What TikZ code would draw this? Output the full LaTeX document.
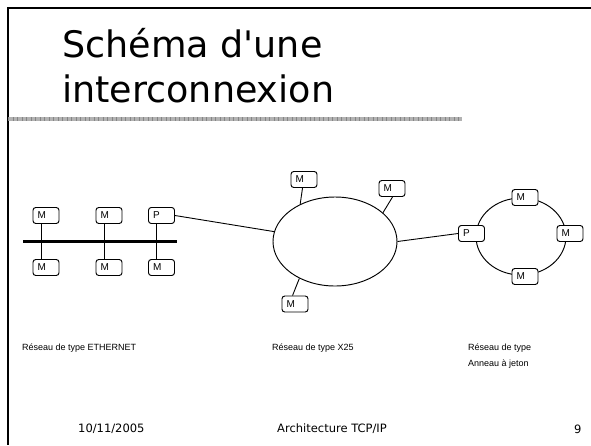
\documentclass[tikz,border=0pt]{standalone}
\usepackage{fontspec}
\setmainfont{DejaVu Sans}
\newfontfamily\dvs{DejaVu Sans}
\newfontfamily\arialf{Liberation Sans}
\usetikzlibrary{calc,shapes.geometric}
\begin{document}
\begin{tikzpicture}[x=1pt,y=-1pt,
  mbox/.style={draw, line width=0.95pt, rounded corners=2.8pt, fill=white,
    minimum height=16pt, text width=17pt, inner xsep=4.5pt, inner ysep=0pt,
    align=left, font=\arialf\fontsize{10}{10}\selectfont},
  wire/.style={line width=0.9pt},
  net/.style={draw, line width=0.95pt, ellipse, inner sep=0pt},
  lbl/.style={font=\arialf\fontsize{9}{10}\selectfont, inner sep=0pt, anchor=west},
  foot/.style={font=\fontsize{11.5}{12}\selectfont, inner sep=0pt, anchor=west},
  ttl/.style={font=\dvs\fontsize{36.5}{45}\selectfont, inner sep=0pt, anchor=base west}]
\useasboundingbox (0,0) rectangle (591,445);
% frame
\draw[line width=2pt] (591,8) -- (7.5,8) -- (7.5,445);
% title
\node[ttl] (t1) at (62,57) {Schéma d'une};
\node[ttl] (t2) at (62,102) {interconnexion};
% bar
\fill[black!30] (8,117) rectangle (462,121);
\draw[black!48, line width=4pt, dash pattern=on 0.7pt off 3.8pt] (8,119) -- (462,119);
% ethernet
\coordinate (busL) at (23,241.5);
\coordinate (busR) at (177,241.5);
\draw[line width=2.3pt] (busL) -- (busR);
\node[mbox] (e1) at (46,215.5) {M};
\node[mbox] (e2) at (109,215.5) {M};
\node[mbox] (ep) at (161.5,215.5) {P};
\node[mbox] (f1) at (46,267.5) {M};
\node[mbox] (f2) at (109,267.5) {M};
\node[mbox] (f3) at (161.5,267.5) {M};
\foreach \a/\b in {e1/f1,e2/f2,ep/f3}
  \draw[wire] ($(\a.south west)+(8.7,0)$) -- ($(\b.north west)+(8.7,0)$);
% X25
\node[net, minimum width=124pt, minimum height=89pt] (x25) at (335,241.5) {};
\node[mbox] (xa) at (304,179.5) {M};
\node[mbox] (xb) at (392,188.5) {M};
\node[mbox] (xc) at (295,304) {M};
\draw[wire] ($(xa.south west)+(12,0)$) -- (x25.133);
\draw[wire] ($(xb.south west)+(14,0)$) -- (x25.31);
\draw[wire] ($(xc.north west)+(11,0)$) -- (x25.226);
\draw[wire] (ep.east) -- (x25);
% ring
\node[net, minimum width=90pt, minimum height=77pt] (ring) at (521,236.5) {};
\node[mbox] (rt) at (525,197.5) {M};
\node[mbox] (rr) at (570,233.5) {M};
\node[mbox] (rb) at (525,276.5) {M};
\node[mbox] (rp) at (471.5,233.5) {P};
\draw[wire] (x25.east) -- (rp.west);
% labels
\node[lbl] (l1) at (22,348) {Réseau de type ETHERNET};
\node[lbl] (l2) at (272,348) {Réseau de type X25};
\node[lbl] (l3) at (468,348) {Réseau de type};
\node[lbl] (l4) at (468,364) {Anneau à jeton};
% footer
\node[foot] (d) at (78,429) {10/11/2005};
\node[foot] (a) at (277,429) {Architecture TCP/IP};
\node[foot] (n) at (574,429) {9};
\end{tikzpicture}
\end{document}
